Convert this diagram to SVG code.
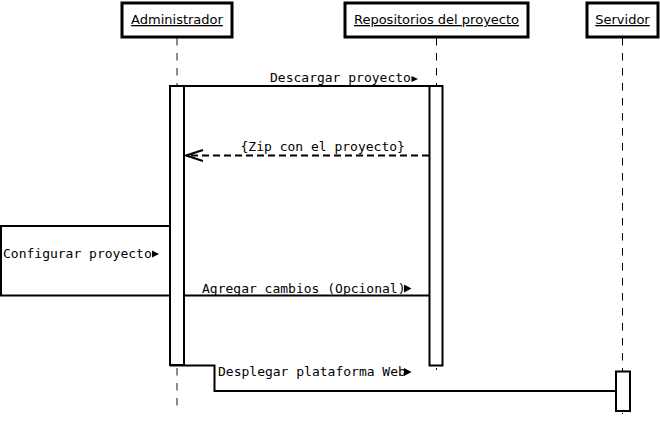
<svg xmlns="http://www.w3.org/2000/svg" width="660" height="423" viewBox="0 0 660 423">
<style>
.head{fill:#fff;stroke:#000;stroke-width:3}
.htxt{font-family:"DejaVu Sans",sans-serif;font-size:13px;fill:#000;text-anchor:middle;text-decoration:underline}
.life{stroke:#000;stroke-width:1;stroke-dasharray:7.5,7.5;fill:none}
.act{fill:#fff;stroke:#000;stroke-width:2}
.msg{stroke:#000;stroke-width:2;fill:none}
.dash{stroke:#000;stroke-width:2;fill:none;stroke-dasharray:7,4}
.mtxt{font-family:"DejaVu Sans Mono",monospace;font-size:13px;fill:#000}
.tri{fill:#000}
</style>
<rect width="660" height="423" fill="#fff"/>
<g id="lifelines">
<line class="life" x1="177" y1="38" x2="177" y2="406" style="stroke:#666;stroke-width:1.5"/>
<line class="life" x1="436.5" y1="38" x2="436.5" y2="370"/>
<line class="life" x1="622.5" y1="38" x2="622.5" y2="414"/>
</g>
<g id="administrador">
<rect class="head" x="122" y="3" width="110" height="34"/>
<text class="htxt" x="177" y="24">Administrador</text>
</g>
<g id="repositorios">
<rect class="head" x="345" y="3" width="183" height="34"/>
<text class="htxt" x="436.5" y="24">Repositorios del proyecto</text>
</g>
<g id="servidor">
<rect class="head" x="587" y="3" width="71" height="34"/>
<text class="htxt" x="622.5" y="24">Servidor</text>
</g>
<g id="configurar">
<rect x="1" y="226" width="169" height="69.5" fill="#fff" stroke="#000" stroke-width="2"/>
<text class="mtxt" x="3" y="258">Configurar proyecto</text>
<polygon class="tri" points="152,250.5 159,254 152,257.5"/>
</g>
<g id="activations">
<rect class="act" x="170" y="86" width="14" height="279"/>
<rect class="act" x="429.5" y="86" width="13" height="279.5"/>
<rect class="act" x="616" y="371.5" width="14" height="39.5"/>
</g>
<g id="connectors">
<line class="msg" x1="170" y1="86" x2="442" y2="86"/>
<text class="mtxt" x="270" y="82">Descargar proyecto</text>
<polygon class="tri" points="411.5,76 418,79 411.5,82"/>
<line class="dash" x1="429" y1="155.5" x2="187" y2="155.5"/>
<polyline class="msg" points="203,150 186,155.5 203,161"/>
<text class="mtxt" x="240.5" y="151">{Zip con el proyecto}</text>
<line class="msg" x1="184" y1="295.5" x2="429.5" y2="295.5"/>
<text class="mtxt" x="202" y="293">Agregar cambios (Opcional)</text>
<polygon class="tri" points="404,284.5 411.5,288.5 404,292.5"/>
<polyline class="msg" points="170,365.5 214.5,365.5 214.5,391 616,391"/>
<text class="mtxt" x="218" y="376">Desplegar plataforma Web</text>
<polygon class="tri" points="404,368 411.5,372 404,376"/>
</g>
</svg>
